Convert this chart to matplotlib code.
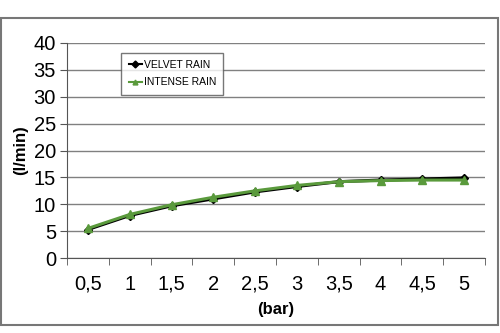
import matplotlib
matplotlib.use("Agg")
import matplotlib.pyplot as plt
from matplotlib.patches import Rectangle

plt.rcParams['font.family'] = ['Liberation Sans', 'DejaVu Sans']

pressure = ["0,5", "1", "1,5", "2", "2,5", "3", "3,5", "4", "4,5", "5"]
velvet = [5.3, 7.9, 9.7, 11.0, 12.3, 13.3, 14.2, 14.5, 14.7, 14.9]
intense = [5.5, 8.1, 9.9, 11.3, 12.5, 13.5, 14.2, 14.4, 14.5, 14.5]

fig = plt.figure(figsize=(5, 3.33), dpi=100)
ax = fig.add_axes([67 / 500, 1 - 258 / 333, 418 / 500, 215 / 333])

x = list(range(len(pressure)))
ax.plot(x, velvet, color="black", lw=2.2, marker="D", ms=4, label="VELVET RAIN", zorder=3)
ax.plot(x, intense, color="#5a9a3c", lw=2.2, marker="^", ms=6, label="INTENSE RAIN", zorder=4)

ax.set_xlim(-0.5, len(pressure) - 0.5)
ax.set_ylim(0, 40)
ax.set_yticks(range(0, 41, 5))
ax.set_xticks(x)
ax.set_xticklabels(pressure)
ax.set_xticks([i - 0.5 for i in range(len(pressure) + 1)], minor=True)
ax.tick_params(axis="x", which="major", length=0, pad=12, labelsize=14.5)
ax.tick_params(axis="x", which="minor", length=5, direction="out", color="#555555")
ax.tick_params(axis="y", length=5, direction="out", labelsize=14.5, pad=3, color="#555555")

ax.grid(axis="y", color="#808080", lw=1)
ax.set_axisbelow(True)
for s in ["top", "right"]:
    ax.spines[s].set_visible(False)
for s in ["left", "bottom"]:
    ax.spines[s].set_color("#555555")

ax.set_xlabel("(bar)", fontsize=12, fontweight="bold", labelpad=6)
ax.set_ylabel("(l/min)", fontsize=12, fontweight="bold", labelpad=4)

leg = ax.legend(loc="upper left", bbox_to_anchor=(0.13, 0.955), fontsize=7.5,
                frameon=True, fancybox=False, edgecolor="#555555",
                handlelength=1.3, handletextpad=0.15, borderpad=0.7, labelspacing=0.7,
                borderaxespad=0)
leg.get_frame().set_linewidth(1)
for h in leg.legend_handles:
    h.set_linewidth(1.5)
    h.set_markersize(3.5)

fig.patches.append(Rectangle((1 / 500, 1 - 325 / 333), 497 / 500, 307 / 333,
                             transform=fig.transFigure, fill=False,
                             edgecolor="#777777", lw=1.5))

fig.savefig("out.png", dpi=100)
